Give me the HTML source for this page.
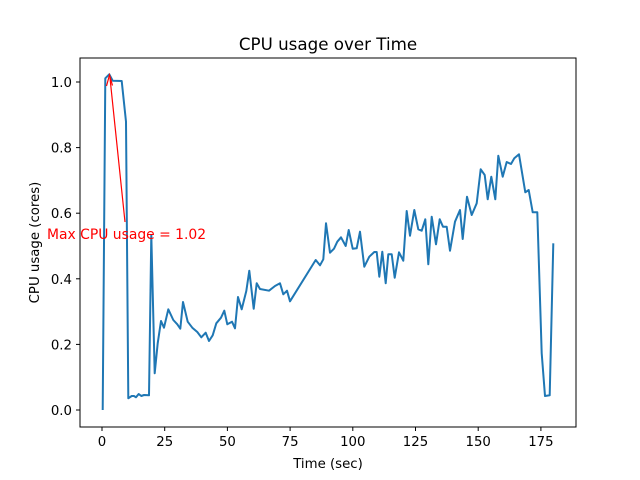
<!DOCTYPE html>
<html><head><meta charset="utf-8"><style>body{margin:0;background:#fff}svg{display:block}text{font-family:"DejaVu Sans","Liberation Sans",sans-serif}</style></head><body>
<svg width="640" height="480" viewBox="0 0 640 480" xmlns="http://www.w3.org/2000/svg">
<rect width="640" height="480" fill="#fff"/>
<text x="328" y="50" font-size="16.7" text-anchor="middle">CPU usage over Time</text>
<polyline fill="none" stroke="#1f77b4" stroke-width="2" stroke-linejoin="round" points="102.7,410 105.3,78.3 109.3,74.3 112.7,80.7 121.7,81 126,121.7 128.3,398.3 131.7,396 134,396 136,397.3 138.7,394 141.3,396 144,395 149,395.3 151.3,235 154.7,373.3 157.7,343.3 161,321 164,327.7 168.3,309.3 173.3,320 177.3,324.3 180.3,328.7 183,302 187.7,321.7 192.3,327.7 197.3,332 201.3,337.3 205.7,332.7 209,341 212.7,335.3 216.3,323.3 221,317.7 224.3,310.7 227.3,324.3 232,321.7 235,328.3 238,297 241.7,309.3 246.3,291 249.3,270.7 253.7,308.7 256.7,283.3 260,289 269,290.7 275,286 280,283.3 283.3,294.3 287,290.7 290,301.3 315.7,260 320,265.3 323.3,259.3 326,223.3 330,252.7 334,248.7 337.3,241.7 341,237.3 345.7,246 348.7,230 352.7,248.7 356.7,248.3 360,231.7 364.3,266.7 369.3,256.7 374.3,252 376.7,252 379.3,276.7 382.3,251.7 385.7,283.3 388.3,254.3 391.7,254.3 394.7,277.7 399,252.3 403.3,260.7 406.7,211 410,235.7 414.3,210 418.3,229.3 421.7,230.7 425.3,219.3 428.3,264.3 431.7,216.7 436,244.3 439.7,219.3 443,226.7 446.7,226.7 450,250.7 455,221.7 460,210 462.7,239 467,196.7 471.7,215 476.7,203.3 480.7,169.3 484.7,175 487.7,199.3 491.3,176.7 495.3,199.3 498.3,155.7 502.7,176.7 506.7,162 511,164 514.3,158.3 519,154.3 525.3,192.3 528.7,190 532.7,212.3 537.3,212.3 541.7,353.3 545,396 549.7,395.3 553.3,243.3"/>
<line x1="125" y1="222" x2="110" y2="78" stroke="#f00" stroke-width="1.2"/>
<polyline points="106.5,86 109.5,75 112.5,85.5" fill="none" stroke="#f00" stroke-width="1.2"/>
<text x="47" y="239" font-size="13.9" fill="#f00">Max CPU usage = 1.02</text>
<rect x="80" y="58" width="496" height="369" fill="none" stroke="#000" stroke-width="1"/>
<g stroke="#000" stroke-width="1">
<line x1="102" y1="427" x2="102" y2="431"/><line x1="164.7" y1="427" x2="164.7" y2="431"/><line x1="227.4" y1="427" x2="227.4" y2="431"/><line x1="290.1" y1="427" x2="290.1" y2="431"/><line x1="352.8" y1="427" x2="352.8" y2="431"/><line x1="415.5" y1="427" x2="415.5" y2="431"/><line x1="478.2" y1="427" x2="478.2" y2="431"/><line x1="540.9" y1="427" x2="540.9" y2="431"/>
<line x1="76" y1="410" x2="80" y2="410"/><line x1="76" y1="344.4" x2="80" y2="344.4"/><line x1="76" y1="278.8" x2="80" y2="278.8"/><line x1="76" y1="213.2" x2="80" y2="213.2"/><line x1="76" y1="147.6" x2="80" y2="147.6"/><line x1="76" y1="82" x2="80" y2="82"/>
</g>
<g font-size="13.3" text-anchor="middle">
<text x="102" y="446">0</text><text x="164.7" y="446">25</text><text x="227.4" y="446">50</text><text x="290.1" y="446">75</text><text x="352.8" y="446">100</text><text x="415.5" y="446">125</text><text x="478.2" y="446">150</text><text x="540.9" y="446">175</text>
<text x="328" y="468">Time (sec)</text>
</g>
<g font-size="13.3" text-anchor="end">
<text x="72" y="415">0.0</text><text x="72" y="349.4">0.2</text><text x="72" y="283.8">0.4</text><text x="72" y="218.2">0.6</text><text x="72" y="152.6">0.8</text><text x="72" y="87">1.0</text>
</g>
<text transform="translate(39,242.5) rotate(-90)" font-size="13.3" text-anchor="middle">CPU usage (cores)</text>
</svg>
</body></html>
